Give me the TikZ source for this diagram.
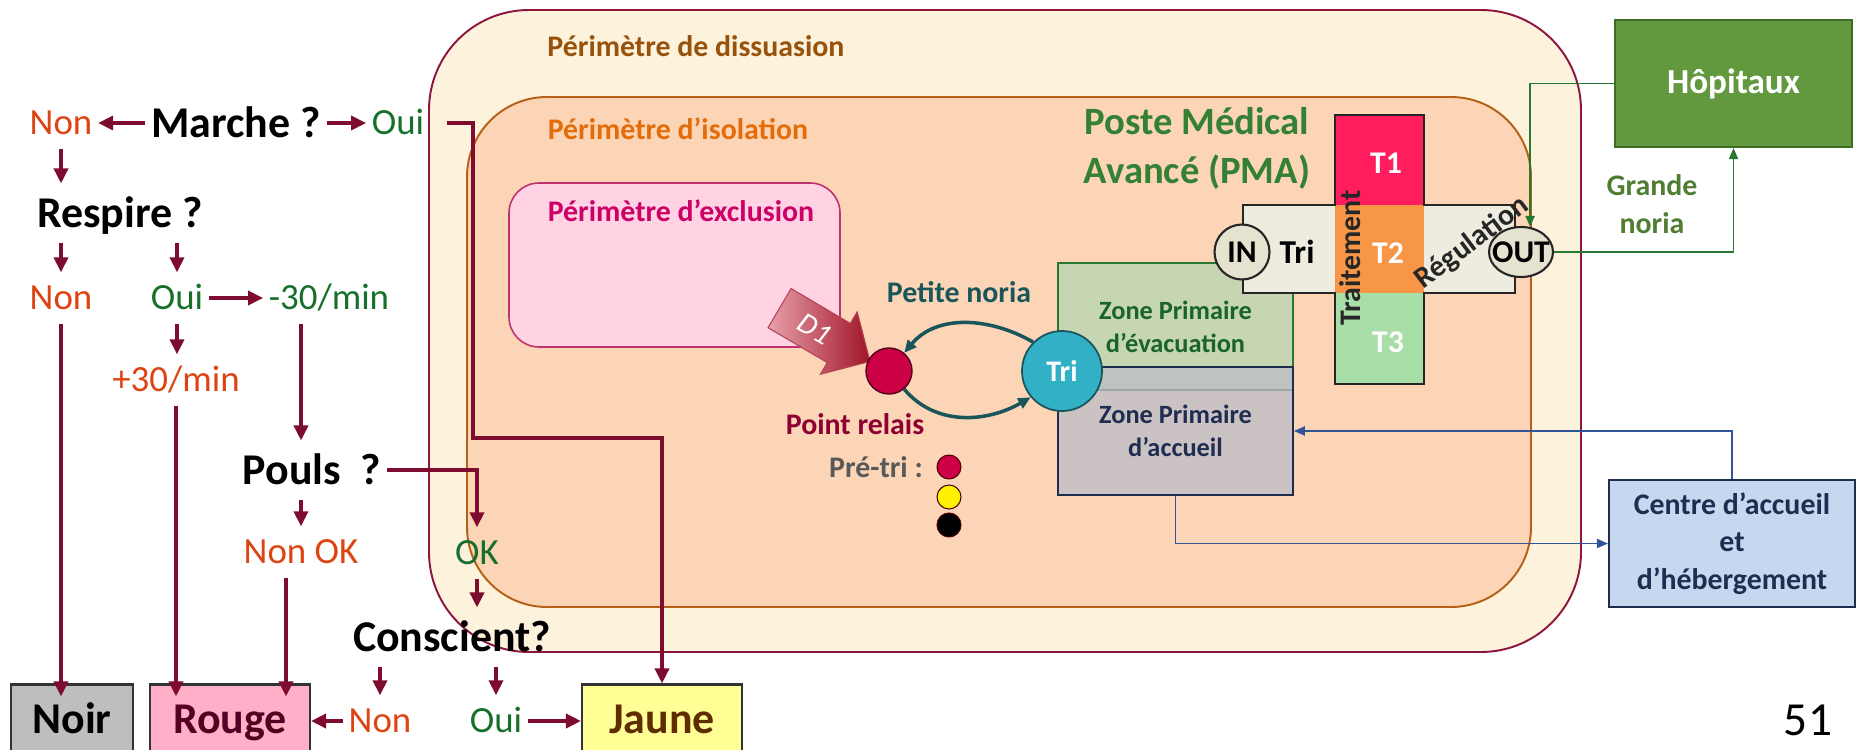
\documentclass[tikz,border=0pt]{standalone}
\usepackage{fontspec}
\setmainfont{Carlito}
\usetikzlibrary{arrows.meta, shapes.geometric, shapes.arrows, positioning}
\definecolor{wine}{RGB}{125,12,46}
\definecolor{nonred}{RGB}{222,68,18}
\definecolor{ouigreen}{RGB}{22,112,42}
\definecolor{dissfill}{RGB}{253,242,220}
\definecolor{dissline}{RGB}{140,22,62}
\definecolor{disstext}{RGB}{152,82,12}
\definecolor{isolfill}{RGB}{251,213,181}
\definecolor{isolline}{RGB}{180,96,22}
\definecolor{isoltext}{RGB}{228,108,10}
\definecolor{exclfill}{RGB}{255,210,228}
\definecolor{exclline}{RGB}{190,50,110}
\definecolor{excltext}{RGB}{204,0,102}
\definecolor{pmagreen}{RGB}{52,128,52}
\definecolor{evacfill}{RGB}{198,213,178}
\definecolor{evacline}{RGB}{40,120,50}
\definecolor{evactext}{RGB}{25,100,40}
\definecolor{accfill}{RGB}{188,189,200}
\definecolor{navy}{RGB}{31,45,80}
\definecolor{tone}{RGB}{255,29,94}
\definecolor{ttwo}{RGB}{247,150,70}
\definecolor{tthree}{RGB}{168,222,168}
\definecolor{armfill}{RGB}{238,235,223}
\definecolor{portfill}{RGB}{230,226,208}
\definecolor{hopfill}{RGB}{98,153,62}
\definecolor{hopline}{RGB}{60,110,35}
\definecolor{grandetext}{RGB}{80,125,50}
\definecolor{linkgreen}{RGB}{40,120,50}
\definecolor{centrefill}{RGB}{197,216,240}
\definecolor{linkblue}{RGB}{47,85,151}
\definecolor{relaisfill}{RGB}{204,0,68}
\definecolor{relaistext}{RGB}{140,0,50}
\definecolor{trifill}{RGB}{49,176,198}
\definecolor{noriateal}{RGB}{25,85,90}
\definecolor{noirfill}{RGB}{190,190,190}
\definecolor{rougefill}{RGB}{255,175,200}
\definecolor{jaunefill}{RGB}{255,255,150}
\definecolor{jaunetext}{RGB}{95,45,0}
\definecolor{rougetext}{RGB}{85,0,35}
\definecolor{dlight}{RGB}{232,160,170}
\definecolor{ddark}{RGB}{160,20,40}

\begin{document}
\begin{tikzpicture}[x=0.02cm,y=-0.02cm,>={Triangle[length=0.3cm,width=0.28cm]},
                    semithick]
  \tikzstyle{ask}=[inner sep=3pt,text height=21.5pt,text depth=5.5pt,
                   font=\fontsize{25}{30}\selectfont\bfseries]
  \tikzstyle{non}=[inner sep=3pt,text height=18pt,text depth=4.6pt,text=nonred,
                   font=\fontsize{21}{25}\selectfont]
  \tikzstyle{oui}=[non,text=ouigreen]
  \tikzstyle{colour}=[draw=black!80,line width=1.2pt,minimum width=3.2cm,
                      minimum height=1.38cm,text height=21.5pt,text depth=5.5pt,
                      font=\fontsize{25}{30}\selectfont\bfseries]
  \tikzstyle{flow}=[->,wine,line width=2pt]
  \tikzstyle{lbl}=[inner sep=2pt,text height=14.6pt,text depth=3.7pt,
                   font=\fontsize{17}{20}\selectfont\bfseries]
  \tikzstyle{zone}=[line width=1pt,minimum width=4.7cm,align=center,
                    font=\fontsize{15}{18.8}\selectfont\bfseries]
  \tikzstyle{port}=[draw=black!85,fill=portfill,line width=1.2pt,inner sep=1pt]
  \tikzstyle{porttext}=[font=\fontsize{18}{20}\selectfont\bfseries]
  \tikzstyle{link}=[-{Triangle[length=0.22cm,width=0.18cm]},line width=1.1pt]
  \tikzstyle{dot}=[circle,draw=black!70!red,minimum size=0.48cm,inner sep=0pt]

  \useasboundingbox (0,0) rectangle (1862,750);
  \draw[fill=dissfill,draw=dissline,line width=1.1pt,rounded corners=2cm]
       (429,10) rectangle (1581,652);
  \draw[fill=isolfill,draw=isolline,line width=1.1pt,rounded corners=1.6cm]
       (467,97) rectangle (1531,607);
  \draw[fill=exclfill,draw=exclline,line width=0.9pt,rounded corners=0.6cm]
       (509,183) rectangle (840,347);

  \node[lbl,text=disstext] (dissua) at (696,47)  {Périmètre de dissuasion};
  \node[lbl,text=isoltext] (isol)   at (678,130) {Périmètre d’isolation};
  \node[lbl,text=excltext] (excl)   at (681,212) {Périmètre d’exclusion};
  \node[align=center,text=pmagreen,font=\fontsize{22}{28}\selectfont\bfseries]
       (pma) at (1197,148) {Poste Médical\\Avancé (PMA)};

  \node[zone,draw=evacline,fill=evacfill,text=evactext,minimum height=2.54cm]
       (evac) at (1175.5,326.5) {Zone Primaire\\d’évacuation};
  \node[zone,draw=navy,fill=accfill,fill opacity=0.75,text opacity=1,text=navy,
        minimum height=2.56cm] (accueil) at (1175.5,431) {Zone Primaire\\d’accueil};

  \fill[armfill] (1243,205) rectangle (1515,293);
  \fill[tone]    (1335,115) rectangle (1424,205);
  \fill[ttwo]    (1335,205) rectangle (1424,293);
  \fill[tthree]  (1335,293) rectangle (1424,384);
  \draw[black!85,line width=1.4pt] (1335,115) -- (1424,115) -- (1424,205)
       -- (1515,205) -- (1515,293) -- (1424,293) -- (1424,384) -- (1335,384)
       -- (1335,293) -- (1243,293) -- (1243,205) -- (1335,205) -- cycle;
  \node[porttext,text=white] (t1) at (1386,163) {T1};
  \node[porttext,text=white] (t2) at (1388,253) {T2};
  \node[porttext,text=white] (t3) at (1388,342) {T3};
  \node[porttext,rotate=90,font=\fontsize{17}{20}\selectfont\bfseries,text=black!85]
       (traitement) at (1350,258) {Traitement};
  \node[porttext,font=\fontsize{19}{20}\selectfont\bfseries] (tritxt) at (1297,252) {Tri};
  \node[porttext,rotate=37,font=\fontsize{17}{20}\selectfont\bfseries,text=black!85]
       (regul) at (1472,243) {Régulation};
  \node[port,circle,minimum size=1.1cm] (in) at (1242,252) {};
  \node[porttext] (intxt) at (in) {IN};
  \node[port,ellipse,minimum width=1.28cm,minimum height=1cm] (out) at (1521,252) {};
  \node[porttext] (outtxt) at (out) {OUT};

  \node[draw=hopline,fill=hopfill,line width=1.2pt,minimum width=4.74cm,
        minimum height=2.54cm,text=white,font=\fontsize{20}{24}\selectfont\bfseries]
       (hop) at (1733.5,83.5) {Hôpitaux};
  \node[align=center,text=grandetext,font=\fontsize{17}{21.6}\selectfont\bfseries]
       (grande) at (1652,204) {Grande\\noria};
  \node[draw=navy,fill=centrefill,line width=1.2pt,minimum width=4.92cm,
        minimum height=2.54cm,align=center,text=navy,
        font=\fontsize{17}{21.3}\selectfont\bfseries]
       (centre) at (1732,543.5) {Centre d’accueil\\et\\d’hébergement};

  \node[single arrow,rotate=-30.5,left color=dlight,right color=ddark,draw=ddark!80,
        minimum height=2.1cm,minimum width=1.45cm,inner ysep=0.22cm,
        text height=0.38cm,text depth=0cm,text=white,
        font=\fontsize{17}{18}\selectfont\itshape] (d1) at (815,329) {D1};
  \node[circle,fill=relaisfill,draw=black!60!relaisfill,line width=0.8pt,
        minimum size=0.92cm] (relais) at (889,371) {};
  \node[circle,fill=trifill,draw=noriateal,line width=1pt,minimum size=1.6cm,
        text=white,font=\fontsize{17}{20}\selectfont\bfseries] (tri) at (1062,371) {Tri};
  \node[lbl,text=noriateal]  (noria)    at (959,293) {Petite noria};
  \node[lbl,text=relaistext] (ptrelais) at (855,425) {Point relais};
  \node[lbl,text=black!65]   (pretri)   at (876,468) {Pré-tri :};
  \node[dot,fill=relaisfill] (dotr) at (949,467) {};
  \node[dot,fill=yellow]     (doty) at (949,497) {};
  \node[dot,fill=black]      (dotn) at (949,525) {};
  \draw[-{Triangle[length=0.25cm,width=0.22cm]},noriateal,line width=2pt]
       (tri.135) to[out=150,in=50] (relais.50);
  \draw[-{Triangle[length=0.25cm,width=0.22cm]},noriateal,line width=2pt]
       (relais.-50) to[out=-50,in=-150] (tri.-140);

  \draw[link,linkgreen] (hop.west) -| (out.70);
  \draw[link,linkgreen] (out.east) -| (hop.south);
  \draw[link,linkblue] (centre.north) |- (accueil.east);
  \draw[link,linkblue] (accueil.south) |- (centre.west);

  \node[ask] (marche)    at (236,123) {Marche ?};
  \node[non] (non1)      at (61,123)  {Non};
  \node[oui] (oui1)      at (398,123) {Oui};
  \node[ask] (respire)   at (120,213) {Respire ?};
  \node[non] (non2)      at (61,298)  {Non};
  \node[oui] (oui2)      at (177,298) {Oui};
  \node[oui] (moins30)   at (329,298) {-30/min};
  \node[non] (plus30)    at (176,380) {+30/min};
  \node[ask] (pouls)     at (312,470) {Pouls\ \ ?};
  \node[non] (nonok)     at (301,552) {Non OK};
  \node[oui] (ok)        at (477,553) {OK};
  \node[ask] (conscient) at (452,637) {Conscient?};
  \node[non] (non3)      at (380,721) {Non};
  \node[oui] (oui3)      at (496,721) {Oui};
  \node[colour,fill=noirfill,minimum width=2.44cm] (noir) at (72,719) {Noir};
  \node[colour,fill=rougefill,text=rougetext] (rouge) at (230,719) {Rouge};
  \node[colour,fill=jaunefill,text=jaunetext] (jaune) at (662,719) {Jaune};
  \coordinate (jbend) at (473,438);

  \draw[flow] (marche) -- (non1);
  \draw[flow] (marche) -- (oui1);
  \draw[flow] (non1) -- (non1 |- respire.north);
  \draw[flow] (respire.south -| non2) -- (non2);
  \draw[flow] (respire.south -| oui2) -- (oui2);
  \draw[flow] (oui2) -- (moins30);
  \draw[flow] (oui2.south) -- (oui2.south |- plus30.north);
  \draw[flow,shorten >=-0.26cm] (non2) -- (non2 |- noir.north);
  \draw[flow,shorten >=-0.26cm] (plus30.south) -- (plus30.south |- rouge.north);
  \draw[flow] (moins30.south -| nonok) -- (nonok |- pouls.north);
  \draw[flow] (pouls.south -| nonok) -- (nonok);
  \draw[flow] (pouls) -| (ok);
  \draw[flow] (ok) -- (ok |- conscient.north);
  \draw[flow] (conscient.south -| non3) -- (non3);
  \draw[flow] (conscient.south -| oui3) -- (oui3);
  \draw[flow] (non3) -- (non3 -| rouge.east);
  \draw[flow] (oui3) -- (oui3 -| jaune.west);
  \draw[flow,shorten >=-0.26cm] ([xshift=-0.3cm]nonok.south)
       -- ([xshift=-0.3cm]nonok.south |- rouge.north);
  \draw[flow,shorten <=0.34cm] (oui1) -| (jbend) -| (jaune);

  \node[font=\fontsize{27}{30}\selectfont] (page) at (1808,720) {51};
\end{tikzpicture}
\end{document}
